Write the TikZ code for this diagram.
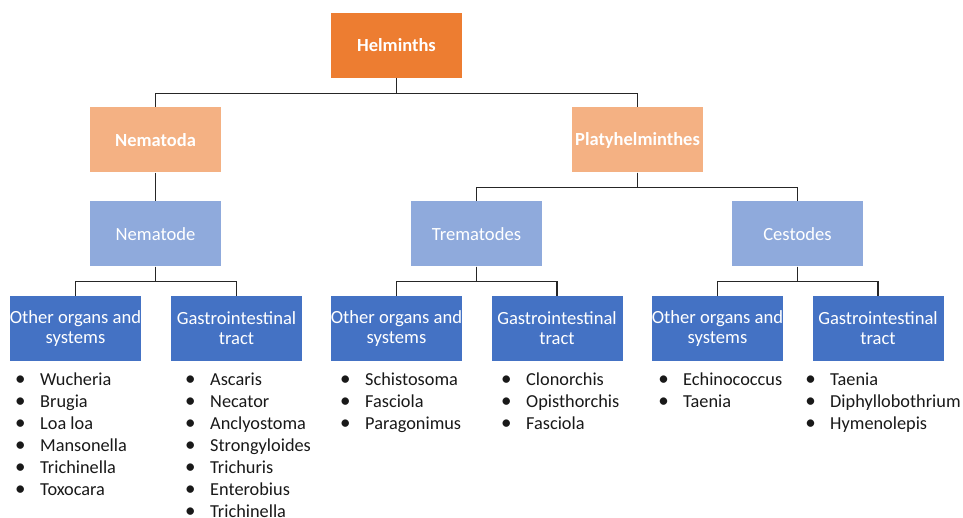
\documentclass[tikz,border=0pt]{standalone}
\usepackage{fontspec}
\setmainfont{Carlito}
\definecolor{orangeA}{HTML}{ED7D31}
\definecolor{orangeB}{HTML}{F4B183}
\definecolor{blueA}{HTML}{8FAADC}
\definecolor{blueB}{HTML}{4472C4}
\newcommand{\itm}[1]{\llap{\raisebox{0.5pt}{\fontsize{21}{22}\selectfont\textbullet}\hspace{14.5pt}}#1}
\begin{document}
\begin{tikzpicture}[x=1pt,y=-1pt,
  box/.style={rectangle, minimum width=131pt, minimum height=65pt, inner sep=0pt, text=white, align=center, font=\fontsize{18.6}{20}\selectfont},
  boxtop/.style={box, fill=orangeA, font=\bfseries\fontsize{18.5}{20}\selectfont},
  boxmid/.style={box, fill=orangeB, font=\bfseries\fontsize{18.5}{20}\selectfont},
  boxlow/.style={box, fill=blueA},
  boxleaf/.style={box, fill=blueB},
  conn/.style={draw=black!85, line width=1.2pt},
  lst/.style={anchor=base west, inner sep=0pt, text=black!90, font=\fontsize{18.3}{22}\selectfont}
]
\useasboundingbox[fill=white] (0,0) rectangle (963,518);

\node[boxtop] (helm) at (396.5,45.5) {Helminths};
\node[boxmid] (nematoda) at (155.5,140) {Nematoda};
\node[boxmid] (platy) at (637.5,140) {Platyhelminthes};
\node[boxlow] (nematode) at (155.5,234) {Nematode};
\node[boxlow] (trem) at (476.5,234) {Trematodes};
\node[boxlow] (cest) at (797.5,234) {Cestodes};

\node[boxleaf] (b1) at (75.5,328.5) {Other organs and\\systems};
\node[boxleaf] (b2) at (236.5,328.5) {Gastrointestinal\\tract};
\node[boxleaf] (b3) at (396.5,328.5) {Other organs and\\systems};
\node[boxleaf] (b4) at (557,328.5) {Gastrointestinal\\tract};
\node[boxleaf] (b5) at (717.5,328.5) {Other organs and\\systems};
\node[boxleaf] (b6) at (878,328.5) {Gastrointestinal\\tract};

\draw[conn] (helm.south) -- ++(0,15) -| (nematoda.north);
\draw[conn] (helm.south) -- ++(0,15) -| (platy.north);
\draw[conn] (nematoda.south) -- (nematode.north);
\draw[conn] (platy.south) -- ++(0,15) -| (trem.north);
\draw[conn] (platy.south) -- ++(0,15) -| (cest.north);
\draw[conn] (nematode.south) -- ++(0,15) -| (b1.north);
\draw[conn] (nematode.south) -- ++(0,15) -| (b2.north);
\draw[conn] (trem.south) -- ++(0,15) -| (b3.north);
\draw[conn] (trem.south) -- ++(0,15) -| (b4.north);
\draw[conn] (cest.south) -- ++(0,15) -| (b5.north);
\draw[conn] (cest.south) -- ++(0,15) -| (b6.north);

\node[lst] (l1) at (40,385.5) {\begin{tabular}[t]{@{}l@{}}\itm{Wucheria}\\\itm{Brugia}\\\itm{Loa loa}\\\itm{Mansonella}\\\itm{Trichinella}\\\itm{Toxocara}\end{tabular}};
\node[lst] (l2) at (210,385.5) {\begin{tabular}[t]{@{}l@{}}\itm{Ascaris}\\\itm{Necator}\\\itm{Anclyostoma}\\\itm{Strongyloides}\\\itm{Trichuris}\\\itm{Enterobius}\\\itm{Trichinella}\end{tabular}};
\node[lst] (l3) at (365,385.5) {\begin{tabular}[t]{@{}l@{}}\itm{Schistosoma}\\\itm{Fasciola}\\\itm{Paragonimus}\end{tabular}};
\node[lst] (l4) at (526,385.5) {\begin{tabular}[t]{@{}l@{}}\itm{Clonorchis}\\\itm{Opisthorchis}\\\itm{Fasciola}\end{tabular}};
\node[lst] (l5) at (683,385.5) {\begin{tabular}[t]{@{}l@{}}\itm{Echinococcus}\\\itm{Taenia}\end{tabular}};
\node[lst] (l6) at (830,385.5) {\begin{tabular}[t]{@{}l@{}}\itm{Taenia}\\\itm{Diphyllobothrium}\\\itm{Hymenolepis}\end{tabular}};
\end{tikzpicture}
\end{document}
